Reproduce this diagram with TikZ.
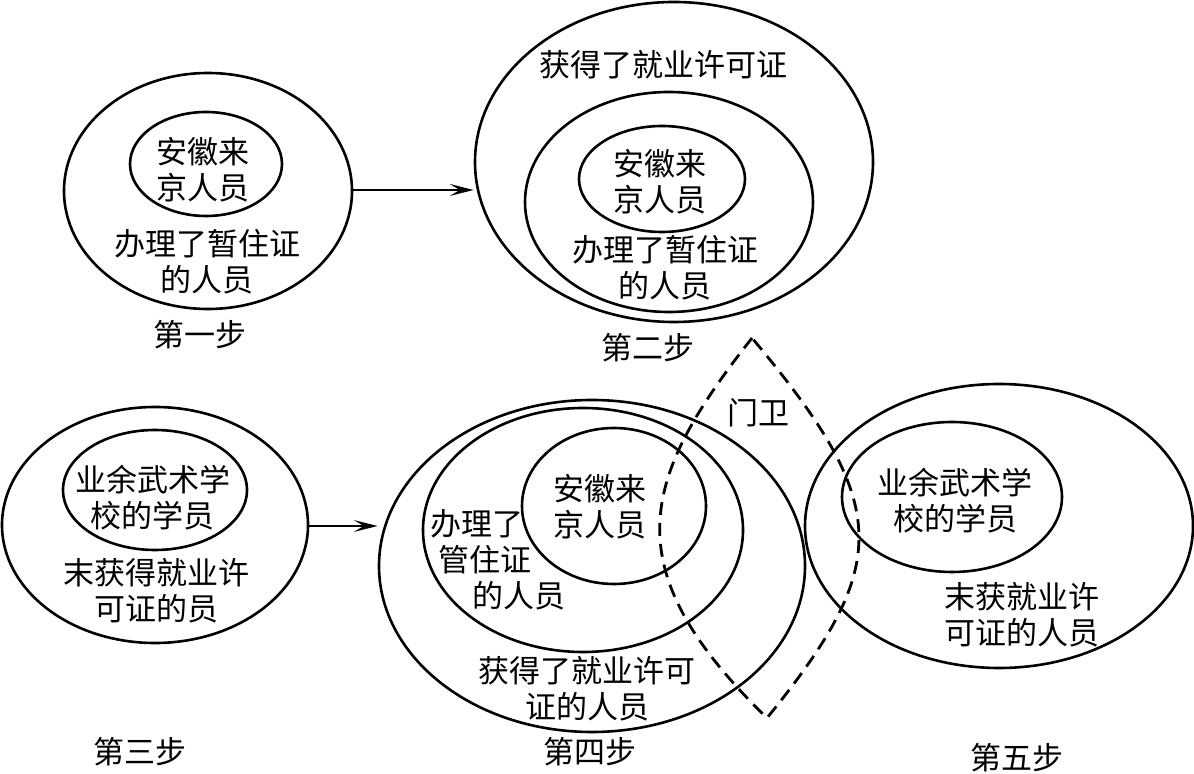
\documentclass[tikz,border=0pt]{standalone}
\usepackage{fontspec}
\newfontfamily\cjk{Noto Sans CJK SC}
\usetikzlibrary{positioning, arrows.meta, shapes.geometric}

\begin{document}
\begin{tikzpicture}[x=0.5pt,y=-0.5pt,
        oval/.style={draw,ellipse,inner sep=0pt,line width=1.3pt},
        lbl/.style={font=\cjk\fontsize{15.5pt}{18pt}\selectfont,align=center,inner sep=0pt},
        arr/.style={-{Stealth[length=12pt,width=6pt,inset=5pt]},line width=0.7pt},
        gate/.style={dash pattern=on 6.5pt off 4pt,line width=1.4pt}]
    \useasboundingbox (0,0) rectangle (1194,774);
    % step 1
    \node[oval,minimum width=144pt,minimum height=118pt] (s1out) at (208,191) {};
    \node[oval,minimum width=76pt,minimum height=52pt] (s1in) at (206,164) {};
    \node[lbl] (s1a) at (203,170) {安徽来\\京人员};
    \node[lbl] (s1b) at (207,262) {办理了暂住证\\的人员};
    \node[lbl] (s1t) at (200,335) {第一步};
    % step 2
    \node[oval,minimum width=199pt,minimum height=160pt] (s2out) at (674,162) {};
    \node[oval,minimum width=144pt,minimum height=110pt] (s2mid) at (669,202) {};
    \node[oval,minimum width=83pt,minimum height=53pt] (s2in) at (662,179) {};
    \node[lbl] (s2c) at (663,65) {获得了就业许可证};
    \node[lbl] (s2a) at (660,182) {安徽来\\京人员};
    \node[lbl] (s2b) at (665,268) {办理了暂住证\\的人员};
    \node[lbl] (s2t) at (648,348) {第二步};
    % step 3
    \node[oval,minimum width=153pt,minimum height=118pt] (s3out) at (155,525) {};
    \node[oval,minimum width=92pt,minimum height=60pt] (s3in) at (155,490) {};
    \node[lbl] (s3a) at (153,498) {业余武术学\\校的学员};
    \node[lbl] (s3b) at (156,591) {末获得就业许\\可证的员};
    \node[lbl] (s3t) at (140,752) {第三步};
    % step 4
    \node[oval,minimum width=213pt,minimum height=166pt] (s4out) at (592,566) {};
    \node[oval,minimum width=160pt,minimum height=122pt] (s4mid) at (583,530) {};
    \node[oval,minimum width=92pt,minimum height=78pt] (s4in) at (614,506) {};
    \node[lbl] (s4a) at (600,507) {安徽来\\京人员};
    \node[lbl,align=left,anchor=west] (s4b) at (430,560) {办理了\\\hspace*{4pt}管住证\\\hspace*{21pt}的人员};
    \node[lbl] (s4c) at (587,689) {获得了就业许可\\证的人员};
    \node[lbl] (s4t) at (590,752) {第四步};
    % step 5
    \node[oval,minimum width=194pt,minimum height=142pt] (s5out) at (999,526) {};
    \node[oval,minimum width=110pt,minimum height=75pt] (s5in) at (952,497) {};
    \node[lbl] (s5a) at (955,501) {业余武术学\\校的学员};
    \node[lbl] (s5b) at (1022,615) {末获就业许\\可证的人员};
    \node[lbl] (s5t) at (1017,758) {第五步};
    % gate
    \draw[gate] (752,338) .. controls (640,480) and (613,568) .. (767,718)
        .. controls (892,564) and (892,505) .. cycle;
    \node[lbl] (gate) at (758,413) {门卫};
    % arrows
    \coordinate (a1) at (0,190);
    \coordinate (a2) at (0,526);
    \draw[arr] (s1out.east |- a1) -- (s2out.west |- a1);
    \draw[arr] (s3out.east |- a2) -- (s4out.west |- a2);
\end{tikzpicture}
\end{document}
